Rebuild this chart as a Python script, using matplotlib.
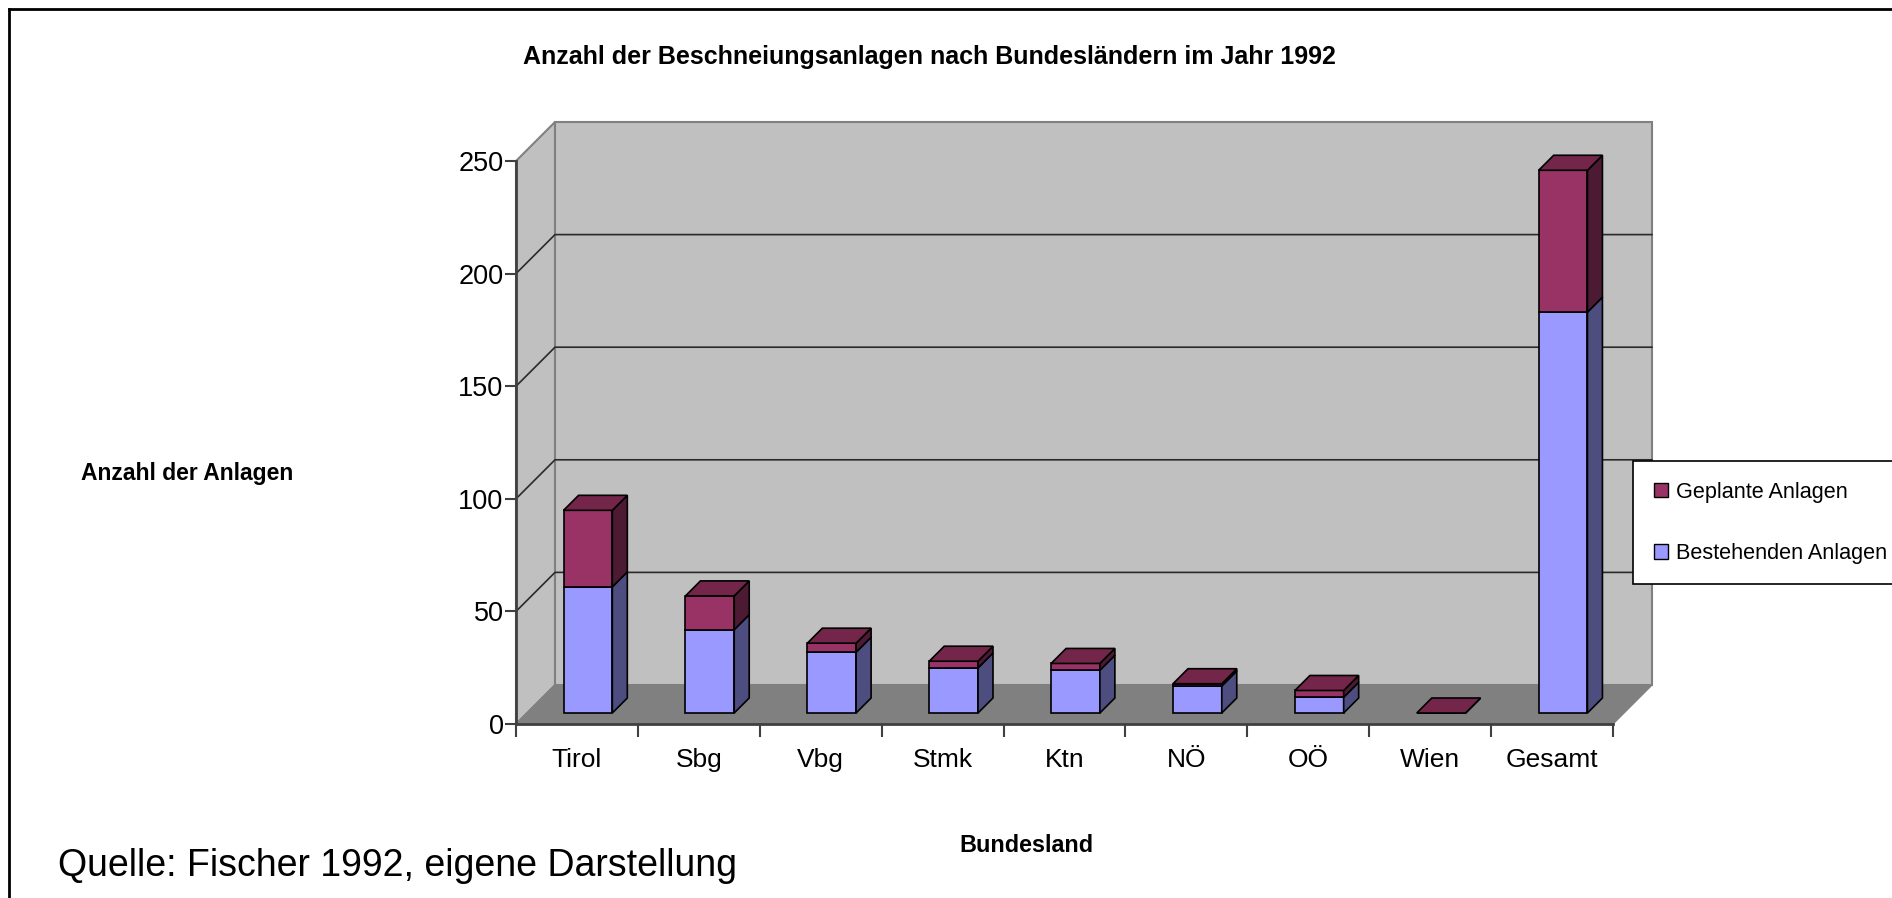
import numpy as np
import matplotlib.pyplot as plt
from matplotlib.patches import Polygon, Patch
from matplotlib.lines import Line2D

plt.rcParams['font.family'] = ['Liberation Sans', 'DejaVu Sans']

bundeslaender = ['Tirol', 'Sbg', 'Vbg', 'Stmk', 'Ktn', 'NÖ', 'OÖ', 'Wien', 'Gesamt']
bestehend = [56, 37, 27, 20, 19, 12, 7, 0, 178]
geplant = [34, 15, 4, 3, 3, 1, 3, 0, 63]
yticks = [0, 50, 100, 150, 200, 250]

W, H = 1892, 898
fig = plt.figure(figsize=(W / 100, H / 100), dpi=100)
ax = fig.add_axes([516 / W, 1 - 724 / H, 1097 / W, 563 / H])
n = len(bundeslaender)
ymax = yticks[-1]
ax.set_xlim(0, n)
ax.set_ylim(0, ymax)

# 3d depth of the floor, expressed in data units
px_x = 1097 / n
px_y = 563 / ymax
dep_x, dep_y = 39 / px_x, 39 / px_y
bar_off = 11 / 39
bar_dep = 15 / 39
bar_w = 0.4

# walls and floor
side = Polygon([(0, 0), (0, ymax), (dep_x, ymax + dep_y), (dep_x, dep_y)],
               fc='#C0C0C0', ec='#808080', lw=1.5, clip_on=False, zorder=1)
back = Polygon([(dep_x, dep_y), (dep_x, ymax + dep_y), (n + dep_x, ymax + dep_y), (n + dep_x, dep_y)],
               fc='#C0C0C0', ec='#808080', lw=1.5, clip_on=False, zorder=1)
floor = Polygon([(0, 0), (dep_x, dep_y), (n + dep_x, dep_y), (n, 0)],
                fc='#808080', ec='#808080', lw=1, clip_on=False, zorder=2)
for p in (side, back, floor):
    ax.add_patch(p)

for v in yticks[1:-1]:
    ax.plot([0, dep_x, n + dep_x], [v, v + dep_y, v + dep_y], color='#2a2a2a', lw=1.2,
            clip_on=False, zorder=1.5)

# bars
ddx, ddy = bar_dep * dep_x, bar_dep * dep_y
def box(x0, yb, yt, front, sidec, topc, top=True):
    ax.add_patch(Polygon([(x0, yb), (x0 + bar_w, yb), (x0 + bar_w, yt), (x0, yt)],
                         fc=front, ec='black', lw=1.2, clip_on=False, zorder=3))
    ax.add_patch(Polygon([(x0 + bar_w, yb), (x0 + bar_w + ddx, yb + ddy),
                          (x0 + bar_w + ddx, yt + ddy), (x0 + bar_w, yt)],
                         fc=sidec, ec='black', lw=1.2, clip_on=False, zorder=3))
    if top:
        ax.add_patch(Polygon([(x0, yt), (x0 + bar_w, yt), (x0 + bar_w + ddx, yt + ddy), (x0 + ddx, yt + ddy)],
                             fc=topc, ec='black', lw=1.2, clip_on=False, zorder=3))

for i in range(n):
    x0 = i + 0.5 - bar_w / 2 + bar_off * dep_x
    ys = bar_off * dep_y
    b, g = bestehend[i], geplant[i]
    box(x0, ys, ys + b, '#9999FF', '#4D4D80', '#7373BF', top=False)
    box(x0, ys + b, ys + b + g, '#993366', '#4D1A33', '#732649')

# front axes
for s in ('top', 'right'):
    ax.spines[s].set_visible(False)
for s in ('left', 'bottom'):
    ax.spines[s].set_color('#404040')
    ax.spines[s].set_linewidth(2)
    ax.spines[s].set_zorder(4)
ax.set_facecolor('none')
ax.set_yticks(yticks)
ax.tick_params(axis='y', labelsize=19.5, length=8, width=1.5, color='#404040', pad=1)
ax.set_xticks(np.arange(n + 1))
ax.set_xticklabels([])
ax.set_xticks(np.arange(n) + 0.5, minor=True)
ax.set_xticklabels(bundeslaender, minor=True)
ax.tick_params(axis='x', which='major', length=9, width=1.5, color='#404040')
ax.tick_params(axis='x', which='minor', length=0, labelsize=19, pad=17)

fig.text(929 / W, 1 - 57 / H, 'Anzahl der Beschneiungsanlagen nach Bundesländern im Jahr 1992',
         ha='center', va='center', fontsize=18, fontweight='bold')
fig.text(187 / W, 1 - 474 / H, 'Anzahl der Anlagen', ha='center', va='center',
         fontsize=16.5, fontweight='bold')
fig.text(1026 / W, 1 - 845 / H, 'Bundesland', ha='center', va='center',
         fontsize=16.8, fontweight='bold')
fig.text(58 / W, 1 - 866 / H, 'Quelle: Fischer 1992, eigene Darstellung', ha='left', va='center',
         fontsize=27)

# outer frame
fig.add_artist(Line2D([9 / W, 9 / W], [0, 1 - 9 / H], transform=fig.transFigure, color='black', lw=2))
fig.add_artist(Line2D([9 / W, 1], [1 - 9 / H, 1 - 9 / H], transform=fig.transFigure, color='black', lw=2))

handles = [Patch(fc='#993366', ec='black', label='Geplante Anlagen'),
           Patch(fc='#9999FF', ec='black', label='Bestehenden Anlagen')]
leg = fig.legend(handles=handles, loc='upper left', bbox_to_anchor=(1633 / W, 1 - 461 / H),
                 borderaxespad=0, fontsize=15.6, fancybox=False, edgecolor='black', framealpha=1,
                 handlelength=0.68, handleheight=0.68, handletextpad=0.35, borderpad=0.95,
                 labelspacing=1.85)
leg.get_frame().set_linewidth(1.2)

fig.savefig('out.png', dpi=100)
